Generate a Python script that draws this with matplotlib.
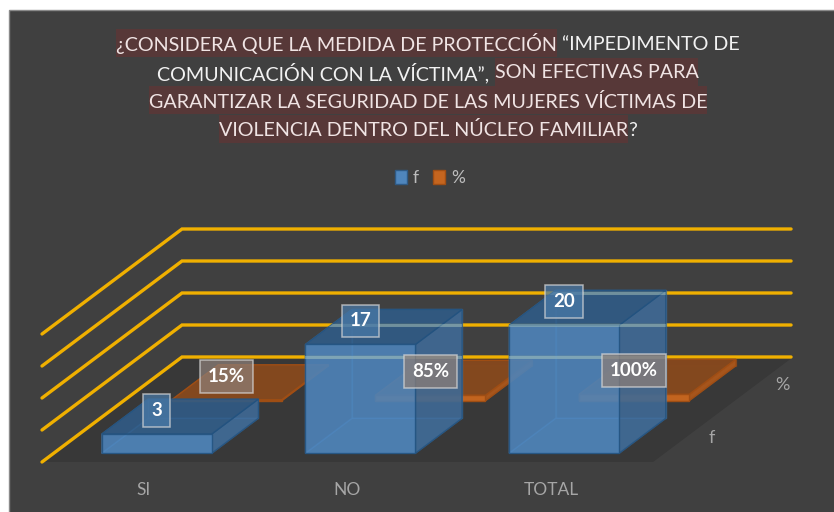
import matplotlib
matplotlib.use('Agg')
import matplotlib.pyplot as plt
from matplotlib.patches import Polygon, Rectangle, Patch

categories = ['SI', 'NO', 'TOTAL']
series_names = ['f', '%']
f_values = [3, 17, 20]
pct_values = [0.15, 0.85, 1.0]
pct_labels = ['15%', '85%', '100%']
grid_levels = [0, 5, 10, 15, 20]
title_lines = [
    [('¿CONSIDERA QUE LA MEDIDA DE PROTECCIÓN', True), (' “IMPEDIMENTO DE', False)],
    [('COMUNICACIÓN CON LA VÍCTIMA”, ', False), ('SON EFECTIVAS PARA', True)],
    [('GARANTIZAR LA SEGURIDAD DE LAS MUJERES VÍCTIMAS DE', True)],
    [('VIOLENCIA DENTRO DEL NÚCLEO FAMILIAR', True), ('?', False)],
]

# fake 3d: x = category position, d = depth row, v = value, result in pixels
X0, Y0 = 42, 462
CAT_W = 203.7
ROW_X, ROW_Y = 70, 52.5
UNIT = 6.4
BAR_W = 0.54

def proj(x, d, v):
    return (X0 + x * CAT_W + d * ROW_X, Y0 - d * ROW_Y - v * UNIT)

plt.rcParams['font.family'] = ['Lato', 'DejaVu Sans']
fig = plt.figure(figsize=(8.34, 5.12), dpi=100, facecolor='white')
ax = fig.add_axes([0, 0, 1, 1])
ax.set_xlim(0, 834)
ax.set_ylim(512, 0)
ax.axis('off')

ax.add_patch(Rectangle((9.5, 9.5), 830, 510, fc='#404040', ec='#8a8a8a', lw=1, zorder=0))

# floor
ax.add_patch(Polygon([proj(0, 0, 0), proj(3, 0, 0), proj(3, 2, 0), proj(0, 2, 0)],
                     fc='#383838', ec='none', zorder=1))

# grid lines along the left wall and the back wall
for level in grid_levels:
    pts = [proj(0, 0, level), proj(0, 2, level), proj(2.99, 2, level)]
    ax.plot([p[0] for p in pts], [p[1] for p in pts], color='#f0b000', lw=2.4,
            solid_capstyle='round', solid_joinstyle='miter', zorder=2)

def draw_bar(i, row, value, front, top, side, edge, inner, alpha, z, show_grid=False):
    x1 = i + 0.506 - BAR_W / 2
    x2 = x1 + BAR_W
    d1 = row + 1 / 6
    d2 = row + 5 / 6
    # hidden faces first so they show through
    ax.add_patch(Polygon([proj(x1, d2, 0), proj(x2, d2, 0), proj(x2, d2, value), proj(x1, d2, value)],
                         fc=side, ec=inner, lw=1, alpha=0.45, zorder=z))
    ax.add_patch(Polygon([proj(x1, d1, 0), proj(x2, d1, 0), proj(x2, d2, 0), proj(x1, d2, 0)],
                         fc=front, ec=inner, lw=1, alpha=0.45, zorder=z))
    ax.add_patch(Polygon([proj(x1, d1, 0), proj(x1, d2, 0), proj(x1, d2, value), proj(x1, d1, value)],
                         fc=side, ec=inner, lw=1, alpha=0.45, zorder=z))
    side_face = ax.add_patch(Polygon([proj(x2, d1, 0), proj(x2, d2, 0), proj(x2, d2, value), proj(x2, d1, value)],
                                     fc=side, ec=edge, lw=1, alpha=alpha, zorder=z + 0.1))
    top_face = ax.add_patch(Polygon([proj(x1, d1, value), proj(x2, d1, value), proj(x2, d2, value), proj(x1, d2, value)],
                                    fc=top, ec=edge, lw=1, alpha=alpha, zorder=z + 0.1))
    front_face = ax.add_patch(Polygon([proj(x1, d1, 0), proj(x2, d1, 0), proj(x2, d1, value), proj(x1, d1, value)],
                                      fc=front, ec=edge, lw=1, alpha=alpha, zorder=z + 0.2))
    if show_grid:
        # the glass look: grid lines stay visible through the faces
        for level in grid_levels:
            a = proj(0, 2, level)
            b = proj(2.99, 2, level)
            for face in (front_face, side_face, top_face):
                line, = ax.plot([a[0], b[0]], [a[1], b[1]], color='#a8c8c8', lw=2.2, alpha=0.45,
                                zorder=z + 0.3)
                line.set_clip_path(face)
    return proj((x1 + x2) / 2, d1, value)

def value_label(pos, text, fc):
    ax.text(pos[0], pos[1] - 23.5, text, color='white', fontsize=13.5, fontweight='bold',
            ha='center', va='center', zorder=20,
            bbox=dict(boxstyle='square,pad=0.42', fc=fc, ec='#d8d8d8', lw=1.1, alpha=0.72))

for i in range(len(categories)):
    pos = draw_bar(i, 1, pct_values[i], '#c5651f', '#84481e', '#a8561c', '#a04e14', '#a04e14', 0.97, 3)
    value_label(pos, pct_labels[i], '#8d7f78')
for i in range(len(categories)):
    pos = draw_bar(i, 0, f_values[i], '#4f86bd', '#2f5a85', '#3f6a96', '#22527f', '#4a8bcb', 0.82, 6,
                   show_grid=True)
    value_label(pos, str(f_values[i]), '#4a7aa8')

# category and depth labels
for i, name in enumerate(categories):
    x, y = proj(i + 0.5, 0, 0)
    ax.text(x, y + 28, name, color='#a6a6a6', fontsize=12.5, ha='center', va='center')
for row, name in enumerate(series_names):
    x, y = proj(3, row + 0.5, 0)
    ax.text(x + 24, y + 2, name, color='#a6a6a6', fontsize=13, ha='center', va='center')

leg = ax.legend(handles=[Patch(fc='#4f86bd', ec='#2f5a85', label=series_names[0]),
                         Patch(fc='#c5651f', ec='#a04e14', label=series_names[1])],
                loc='center', bbox_to_anchor=(430, 178), bbox_transform=ax.transData,
                ncol=2, frameon=False, fontsize=12.5, labelcolor='#bdbdbd',
                handlelength=0.7, handleheight=0.8, handletextpad=0.35, columnspacing=0.8)

# title, measured piece by piece because only parts of it are highlighted
renderer = fig.canvas.get_renderer()
TITLE_SIZE = 14.2

def text_width(s):
    t1 = ax.text(0, 0, s + '|', fontsize=TITLE_SIZE)
    t2 = ax.text(0, 0, '|', fontsize=TITLE_SIZE)
    w = t1.get_window_extent(renderer).width - t2.get_window_extent(renderer).width
    t1.remove()
    t2.remove()
    return w

line_y = [42.5, 71.5, 100, 128.5]
for segs, y in zip(title_lines, line_y):
    widths = [text_width(s) for s, hl in segs]
    x = 428 - sum(widths) / 2
    for (s, hl), w in zip(segs, widths):
        if hl:
            ax.add_patch(Rectangle((x, y - 14), w, 28, fc='#573838', ec='none', zorder=3))
        ax.text(x, y, s, color='#f0e4e4' if hl else '#f2f2f2', fontsize=TITLE_SIZE,
                ha='left', va='center_baseline', zorder=4)
        x += w

fig.savefig('out.png', dpi=100)
